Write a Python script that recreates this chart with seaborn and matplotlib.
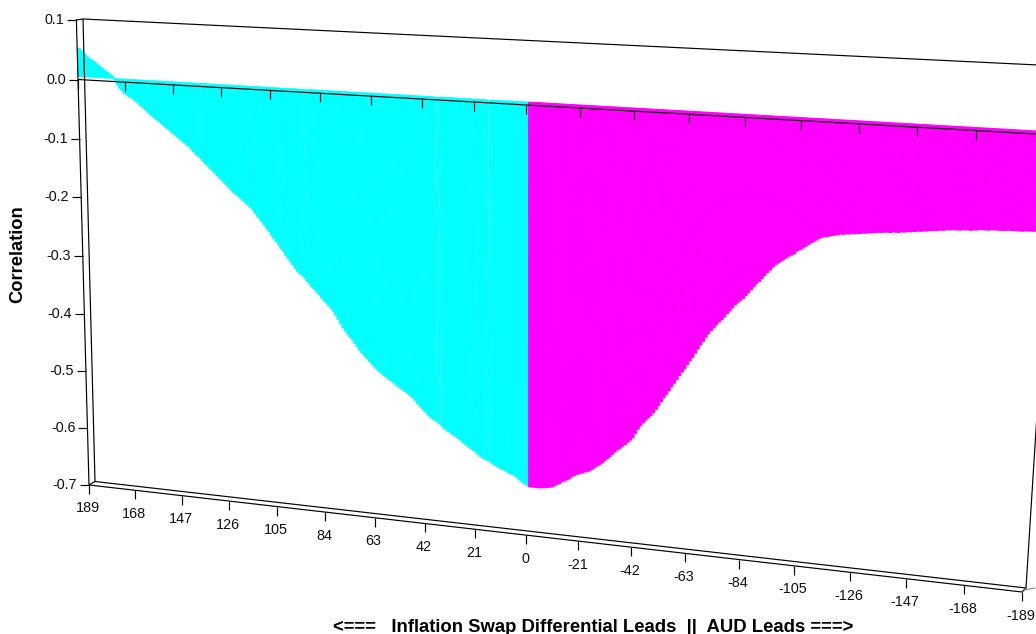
import matplotlib
matplotlib.use('Agg')
import matplotlib.pyplot as plt
from matplotlib.transforms import Transform, Affine2D
import seaborn as sns
import numpy as np
import pandas as pd

# correlation, one bar per lag
lags = np.arange(189, -190, -1)
corr = [
    .048, .046, .042, .038, .034, .031, .029, .027, .024, .021,
    .018, .015, .012, .010, .007, .004, -.003, -.010, -.016, -.020,
    -.024, -.026, -.029, -.031, -.033, -.036, -.039, -.043, -.046, -.049,
    -.053, -.056, -.059, -.062, -.065, -.068, -.071, -.074, -.077, -.080,
    -.083, -.086, -.089, -.092, -.095, -.098, -.101, -.104, -.107, -.111,
    -.115, -.119, -.122, -.126, -.130, -.134, -.137, -.141, -.144, -.148,
    -.152, -.156, -.159, -.163, -.167, -.171, -.175, -.178, -.181, -.184,
    -.187, -.191, -.194, -.197, -.201, -.205, -.210, -.215, -.219, -.224,
    -.229, -.234, -.239, -.245, -.250, -.255, -.260, -.266, -.271, -.277,
    -.282, -.287, -.292, -.297, -.302, -.306, -.309, -.313, -.318, -.322,
    -.326, -.330, -.334, -.338, -.343, -.347, -.351, -.355, -.359, -.364,
    -.370, -.377, -.384, -.390, -.395, -.400, -.405, -.409, -.415, -.420,
    -.425, -.430, -.434, -.438, -.442, -.446, -.450, -.454, -.457, -.460,
    -.463, -.466, -.469, -.471, -.474, -.477, -.480, -.482, -.485, -.487,
    -.490, -.493, -.496, -.500, -.505, -.509, -.513, -.517, -.521, -.524,
    -.527, -.530, -.533, -.536, -.539, -.542, -.545, -.547, -.550, -.552,
    -.554, -.557, -.560, -.563, -.566, -.569, -.571, -.574, -.577, -.580,
    -.583, -.585, -.587, -.589, -.591, -.593, -.595, -.597, -.599, -.600,
    -.602, -.604, -.606, -.607, -.609, -.612, -.615, -.618, -.621, -.623,
    -.624, -.624, -.624, -.624, -.624, -.623, -.623, -.622, -.621, -.620,
    -.618, -.615, -.613, -.610, -.608, -.606, -.603, -.600, -.597, -.595,
    -.593, -.592, -.590, -.589, -.587, -.584, -.581, -.578, -.575, -.572,
    -.568, -.564, -.560, -.556, -.552, -.548, -.545, -.541, -.538, -.534,
    -.530, -.526, -.518, -.511, -.505, -.500, -.495, -.491, -.487, -.482,
    -.476, -.470, -.463, -.456, -.450, -.444, -.437, -.431, -.425, -.418,
    -.412, -.406, -.399, -.393, -.387, -.380, -.373, -.366, -.360, -.353,
    -.347, -.342, -.337, -.332, -.327, -.323, -.318, -.313, -.308, -.303,
    -.298, -.294, -.290, -.287, -.282, -.277, -.272, -.267, -.262, -.258,
    -.253, -.248, -.243, -.239, -.234, -.230, -.227, -.224, -.221, -.218,
    -.215, -.213, -.210, -.206, -.204, -.201, -.198, -.195, -.192, -.190,
    -.187, -.184, -.182, -.181, -.180, -.179, -.178, -.177, -.176, -.175,
    -.175, -.174, -.174, -.173, -.173, -.172, -.172, -.171, -.171, -.170,
    -.170, -.169, -.169, -.168, -.168, -.167, -.167, -.167, -.166, -.166,
    -.166, -.165, -.165, -.164, -.164, -.163, -.163, -.162, -.162, -.161,
    -.161, -.160, -.160, -.159, -.159, -.158, -.158, -.157, -.157, -.156,
    -.156, -.156, -.156, -.155, -.155, -.155, -.155, -.154, -.154, -.153,
    -.153, -.153, -.153, -.152, -.152, -.152, -.152, -.152, -.152, -.151,
    -.151, -.151, -.151, -.151, -.151, -.150, -.150, -.150, -.150,
]
x_ticks = [189, 168, 147, 126, 105, 84, 63, 42, 21, 0, -21, -42, -63, -84, -105, -126, -147, -168, -189]
y_ticks = [0.1, 0.0, -0.1, -0.2, -0.3, -0.4, -0.5, -0.6, -0.7]
# lags where the old renderer left a pale hairline between bars
streak_lags = [136, 114, 101, 92, 90, 37, 36, 35, 21, 16, 15]

CYAN = '#00ffff'
MAGENTA = '#ff00ff'


# the old chart is a fake 3D box, so the plot plane is a perspective view
class Perspective(Transform):
    input_dims = 2
    output_dims = 2

    def __init__(self, src, dst):
        super().__init__()
        rows, rhs = [], []
        for (x, y), (px, py) in zip(src, dst):
            rows.append([x, y, 1, 0, 0, 0, -px * x, -px * y])
            rows.append([0, 0, 0, x, y, 1, -py * x, -py * y])
            rhs += [px, py]
        self.m = np.append(np.linalg.solve(np.array(rows, float), np.array(rhs, float)), 1).reshape(3, 3)

    def transform_non_affine(self, values):
        xy = np.asarray(values, float)
        p = np.column_stack([xy, np.ones(len(xy))]) @ self.m.T
        return p[:, :2] / p[:, 2:]


plane = Perspective([(189, 0), (-189, 0), (189, -0.7), (-189, -0.7)],
                    [(78, 79.5), (1036, 134), (89, 485), (1022, 592)])

sns.set_theme(style='white')
plt.rcParams['font.family'] = ['Liberation Sans', 'DejaVu Sans']

fig = plt.figure(figsize=(10.36, 6.34), dpi=100)
ax = fig.add_axes([0, 0, 1, 1])

df = pd.DataFrame({'lag': lags, 'corr': corr})
df['side'] = np.where(df['lag'] >= 0, 'cyan', 'magenta')
sns.barplot(data=df, x='lag', y='corr', hue='side', native_scale=True, width=1, dodge=False,
            palette={'cyan': CYAN, 'magenta': MAGENTA}, saturation=1, errorbar=None,
            legend=False, linewidth=0, ax=ax)

ax.set_xlim(0, 1036)
ax.set_ylim(634, 0)
ax.set_autoscale_on(False)
ax.set_axis_off()

to_px = plane + ax.transData
bar_trans = plane + Affine2D().translate(1, -3) + ax.transData
for bar in ax.patches:
    bar.set_transform(bar_trans)
    mid = bar.get_x() + bar.get_width() / 2
    if mid < -0.25:
        bar.set_edgecolor(MAGENTA)
        bar.set_linewidth(0.7)
    elif round(mid) not in streak_lags:
        bar.set_edgecolor(CYAN)
        bar.set_linewidth(0.5)

line_kw = dict(color='black', lw=0.85, solid_capstyle='butt', zorder=5)

# front plane
ax.plot([189, 189], [0.1, -0.7], transform=to_px, **line_kw)
ax.plot([189, -189], [0, 0], transform=to_px, **line_kw)
ax.plot([189, -189], [-0.7, -0.7], transform=to_px, **line_kw)

# back wall of the box, runs off the right edge
ax.plot([76, 83, 95, 1026, 1059], [20, 19, 481.5, 588, 66], **line_kw)
ax.plot([83, 1059], [19, 66], **line_kw)
ax.plot([89, 95], [485, 481.5], **line_kw)
ax.plot([1022, 1026], [592, 588], **line_kw)
ax.plot([1024, 1035], [590, 588], color='#888888', lw=0.8, zorder=5)

# ticks and labels
for t in y_ticks:
    px, py = plane.transform_non_affine([[189, t]])[0]
    ax.plot([px - 9, px], [py, py], **line_kw)
    ax.text(px - 12, py, f'{t:.1f}', ha='right', va='center', fontsize=10.4, color='#111111')

for t in x_ticks:
    px, py = plane.transform_non_affine([[t, 0]])[0]
    ax.plot([px, px], [py, py + 9], **line_kw)
    px, py = plane.transform_non_affine([[t, -0.7]])[0]
    ax.plot([px, px], [py, py + 9], **line_kw)
    ax.text(px - 1, py + 23.5, str(t), ha='center', va='center', fontsize=10.4, color='#111111')

ax.text(593.5, 627, '<===   Inflation Swap Differential Leads  ||  AUD Leads ===>',
        ha='center', va='center', fontsize=13.3, fontweight='bold', color='black')
ax.text(18, 254, 'Correlation', rotation=90, ha='center', va='center',
        fontsize=13.2, fontweight='bold', color='black')

plt.savefig('out.png', dpi=100)
plt.close()
